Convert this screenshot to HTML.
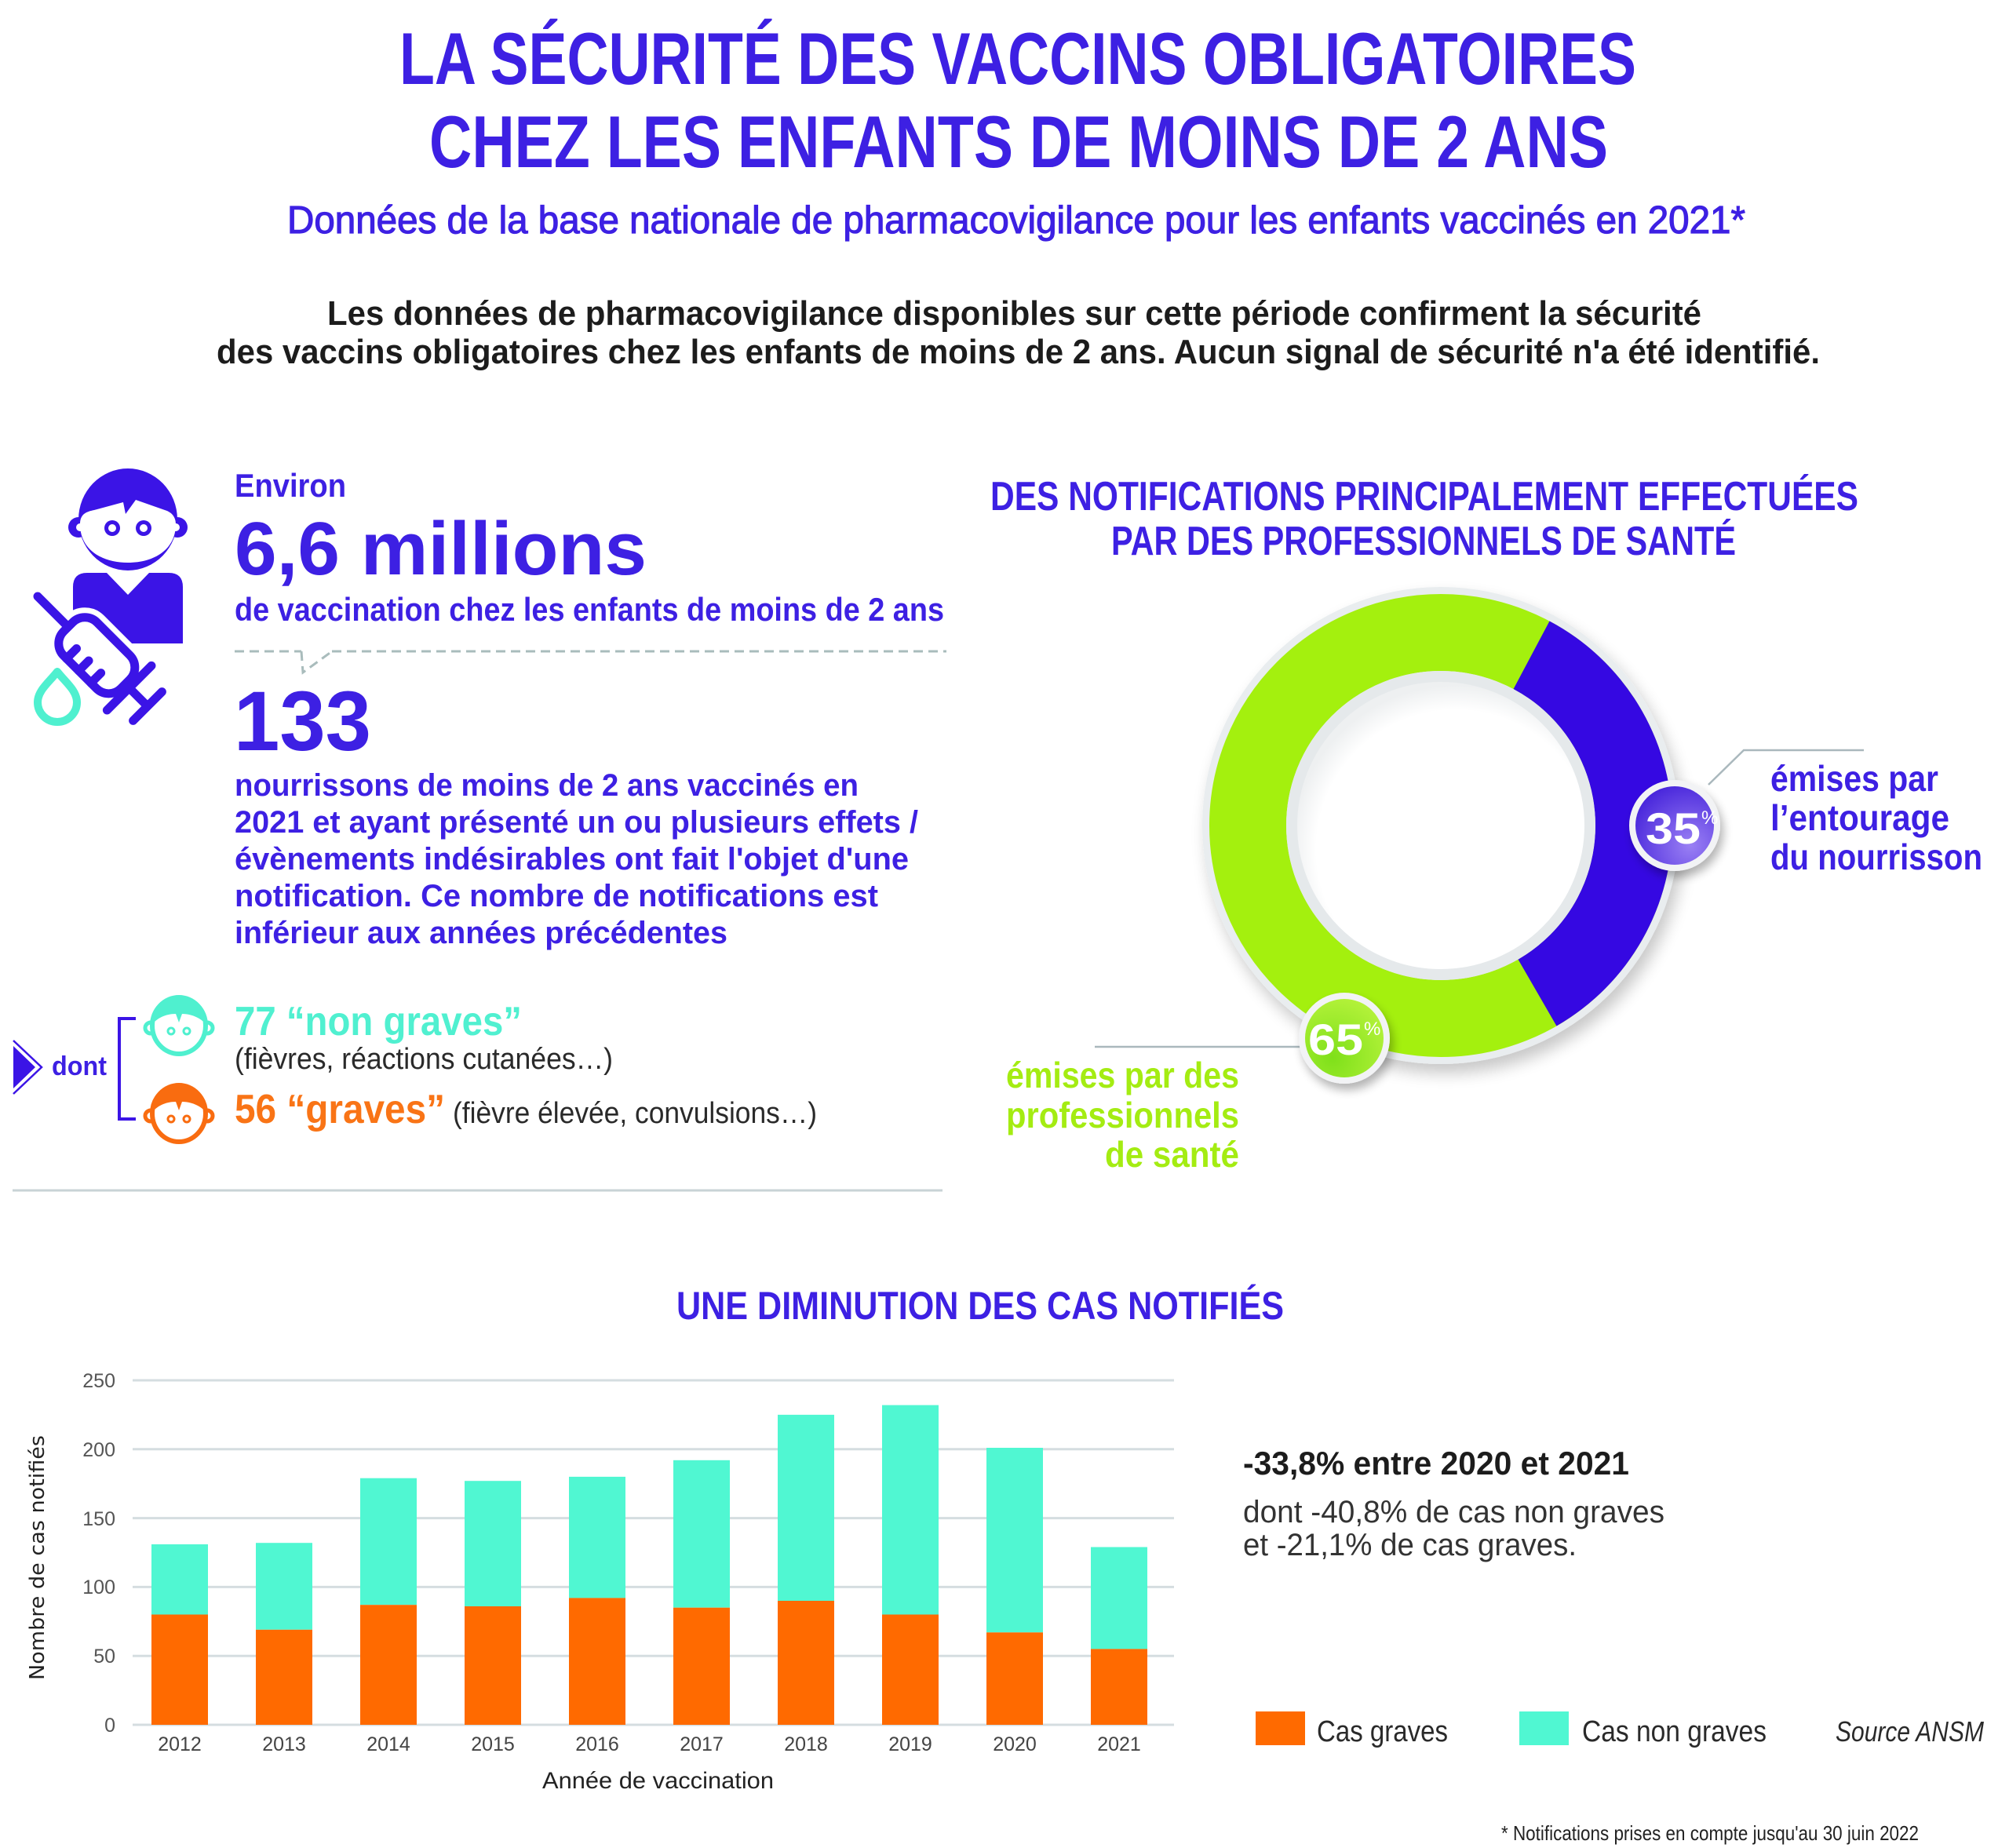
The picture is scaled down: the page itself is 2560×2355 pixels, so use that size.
<!DOCTYPE html>
<html><head><meta charset="utf-8"><style>
html,body{margin:0;padding:0;background:#fff;}
svg{display:block;}
text{font-family:"Liberation Sans",Arial,sans-serif;}
</style></head><body>
<svg width="2560" height="2355" viewBox="0 0 2560 2355" xmlns="http://www.w3.org/2000/svg">
<defs>
<filter id="sh" x="-20%" y="-20%" width="140%" height="140%"><feGaussianBlur in="SourceAlpha" stdDeviation="10"/><feOffset dx="6" dy="12"/><feComponentTransfer><feFuncA type="linear" slope="0.22"/></feComponentTransfer><feMerge><feMergeNode/><feMergeNode in="SourceGraphic"/></feMerge></filter>
<filter id="sh2" x="-40%" y="-40%" width="180%" height="180%"><feGaussianBlur in="SourceAlpha" stdDeviation="6"/><feOffset dx="4" dy="8"/><feComponentTransfer><feFuncA type="linear" slope="0.3"/></feComponentTransfer><feMerge><feMergeNode/><feMergeNode in="SourceGraphic"/></feMerge></filter>
<radialGradient id="gp" cx="70%" cy="75%" r="80%"><stop offset="0" stop-color="#9a80f4"/><stop offset="1" stop-color="#4a28dc"/></radialGradient>
<radialGradient id="gg" cx="35%" cy="75%" r="80%"><stop offset="0" stop-color="#7fe01a"/><stop offset="1" stop-color="#b4f23a"/></radialGradient>
<radialGradient id="hole" cx="55%" cy="58%" r="55%"><stop offset="0.85" stop-color="#ffffff"/><stop offset="1" stop-color="#eef0f1"/></radialGradient>
</defs>

<!-- HEADER -->
<text x="509" y="107" font-size="94" font-weight="bold" fill="#3d20e3" textLength="1576" lengthAdjust="spacingAndGlyphs">LA SÉCURITÉ DES VACCINS OBLIGATOIRES</text>
<text x="547" y="213" font-size="94" font-weight="bold" fill="#3d20e3" textLength="1502" lengthAdjust="spacingAndGlyphs">CHEZ LES ENFANTS DE MOINS DE 2 ANS</text>
<text x="366" y="297" font-size="49" fill="#3d20e3" stroke="#3d20e3" stroke-width="1.2" textLength="1858" lengthAdjust="spacingAndGlyphs">Données de la base nationale de pharmacovigilance pour les enfants vaccinés en 2021*</text>
<text x="417" y="414" font-size="44" font-weight="bold" fill="#1c1c1c" textLength="1751" lengthAdjust="spacingAndGlyphs">Les données de pharmacovigilance disponibles sur cette période confirment la sécurité</text>
<text x="276" y="463" font-size="44" font-weight="bold" fill="#1c1c1c" textLength="2043" lengthAdjust="spacingAndGlyphs">des vaccins obligatoires chez les enfants de moins de 2 ans. Aucun signal de sécurité n'a été identifié.</text>

<!-- BOY ICON -->
<g fill="#3b14e6">
<ellipse cx="163" cy="662" rx="63" ry="65"/>
<circle cx="100" cy="672" r="13"/>
<circle cx="226" cy="672" r="13"/>
</g>
<g fill="#fff">
<path d="M102,668 C102,655 110,652 120,650 L157,640 L160,655 L173,637 L210,650 C220,653 224,660 224,668 C224,700 197,717 163,717 C129,717 102,700 102,668 Z"/>
<circle cx="102" cy="672" r="5"/>
<circle cx="224" cy="672" r="5"/>
</g>
<g fill="#3b14e6"><circle cx="143" cy="673" r="10"/><circle cx="183" cy="673" r="10"/></g>
<g fill="#fff"><circle cx="143" cy="673" r="5"/><circle cx="183" cy="673" r="5"/></g>
<path d="M93,748 Q93,730 111,730 L136,730 L163,758 L190,730 L215,730 Q233,730 233,748 L233,820 L93,820 Z" fill="#3b14e6"/>
<g transform="translate(48,760) rotate(45)" stroke-linecap="round">
 <g stroke="#fff" stroke-width="25" fill="#fff">
  <line x1="0" y1="0" x2="50" y2="0"/>
  <rect x="55" y="-30" width="103" height="60" rx="22"/>
  <line x1="165" y1="-40" x2="165" y2="40"/>
  <line x1="165" y1="0" x2="195" y2="0"/>
  <line x1="198" y1="-26" x2="198" y2="26"/>
 </g>
 <g stroke="#3b14e6" stroke-width="11" fill="#fff">
  <line x1="0" y1="0" x2="50" y2="0"/>
  <rect x="55" y="-30" width="103" height="60" rx="22"/>
  <line x1="82" y1="30" x2="82" y2="12"/>
  <line x1="104" y1="30" x2="104" y2="12"/>
  <line x1="126" y1="30" x2="126" y2="12"/>
  <line x1="165" y1="-40" x2="165" y2="40"/>
  <line x1="165" y1="0" x2="195" y2="0"/>
  <line x1="198" y1="-26" x2="198" y2="26"/>
 </g>
</g>
<path d="M73,856 C62,870 48,880 48,895 A25,25 0 0 0 98,895 C98,880 84,870 73,856 Z" fill="#fff" stroke="#4ff0cf" stroke-width="10" stroke-linejoin="round"/>

<!-- LEFT TEXT -->
<text x="299" y="633" font-size="42" font-weight="bold" fill="#3d20e3" textLength="142" lengthAdjust="spacingAndGlyphs">Environ</text>
<text x="299" y="732" font-size="96" font-weight="bold" fill="#3d20e3" textLength="525" lengthAdjust="spacingAndGlyphs">6,6 millions</text>
<text x="299" y="791" font-size="42" font-weight="bold" fill="#3d20e3" textLength="904" lengthAdjust="spacingAndGlyphs">de vaccination chez les enfants de moins de 2 ans</text>
<g stroke="#a9bcbc" stroke-width="3" fill="none" stroke-dasharray="12 7">
<line x1="299" y1="830" x2="384" y2="830"/>
<path d="M384,830 L386,857 L423,830"/>
<line x1="423" y1="830" x2="1206" y2="830"/>
</g>
<text x="298" y="956" font-size="108" font-weight="bold" fill="#3d20e3" textLength="175" lengthAdjust="spacingAndGlyphs">133</text>
<g font-size="40" font-weight="bold" fill="#3d20e3">
<text x="299" y="1014" textLength="795" lengthAdjust="spacingAndGlyphs">nourrissons de moins de 2 ans vaccinés en</text>
<text x="299" y="1061" textLength="871" lengthAdjust="spacingAndGlyphs">2021 et ayant présenté un ou plusieurs effets /</text>
<text x="299" y="1108" textLength="859" lengthAdjust="spacingAndGlyphs">évènements indésirables ont fait l'objet d'une</text>
<text x="299" y="1155" textLength="820" lengthAdjust="spacingAndGlyphs">notification. Ce nombre de notifications est</text>
<text x="299" y="1202" textLength="628" lengthAdjust="spacingAndGlyphs">inférieur aux années précédentes</text>
</g>

<!-- dont section -->
<polygon points="17,1333 45,1360 17,1387" fill="#3b14e6"/>
<polyline points="17,1326 53,1360 17,1394" fill="none" stroke="#3b14e6" stroke-width="2.5"/>
<text x="66" y="1370" font-size="34" font-weight="bold" fill="#3d20e3" textLength="70" lengthAdjust="spacingAndGlyphs">dont</text>
<path d="M173,1298 H152 V1426 H173" fill="none" stroke="#3b14e6" stroke-width="4"/>

<g transform="translate(228,1306)">
 <circle cx="-36" cy="4" r="7" fill="#fff" stroke="#4ff0cf" stroke-width="5"/>
 <circle cx="36" cy="4" r="7" fill="#fff" stroke="#4ff0cf" stroke-width="5"/>
 <ellipse cx="0" cy="1" rx="34" ry="36" fill="#fff" stroke="#4ff0cf" stroke-width="6"/>
 <path d="M-35,0 C-35,-26 -18,-36 0,-36 C18,-36 35,-26 35,0 C27,-10 14,-14 4,-14 L0,-3 L-4,-14 C-18,-14 -28,-8 -35,0 Z" fill="#4ff0cf"/>
 <circle cx="-10" cy="8" r="4" fill="#fff" stroke="#4ff0cf" stroke-width="3"/>
 <circle cx="10" cy="8" r="4" fill="#fff" stroke="#4ff0cf" stroke-width="3"/>
</g>
<g transform="translate(228,1418)">
 <circle cx="-36" cy="4" r="7" fill="#fff" stroke="#f96c10" stroke-width="5"/>
 <circle cx="36" cy="4" r="7" fill="#fff" stroke="#f96c10" stroke-width="5"/>
 <ellipse cx="0" cy="1" rx="34" ry="36" fill="#fff" stroke="#f96c10" stroke-width="6"/>
 <path d="M-35,0 C-35,-26 -18,-36 0,-36 C18,-36 35,-26 35,0 C27,-10 14,-14 4,-14 L0,-3 L-4,-14 C-18,-14 -28,-8 -35,0 Z" fill="#f96c10"/>
 <circle cx="-10" cy="8" r="4" fill="#fff" stroke="#f96c10" stroke-width="3"/>
 <circle cx="10" cy="8" r="4" fill="#fff" stroke="#f96c10" stroke-width="3"/>
</g>
<text x="299" y="1319" font-size="52" font-weight="bold" fill="#50f0d0" textLength="366" lengthAdjust="spacingAndGlyphs">77 “non graves”</text>
<text x="299" y="1362" font-size="38" fill="#2a2a2a" textLength="482" lengthAdjust="spacingAndGlyphs">(fièvres, réactions cutanées…)</text>
<text x="299" y="1431" font-size="52" font-weight="bold" fill="#f97416" textLength="268" lengthAdjust="spacingAndGlyphs">56 “graves”</text>
<text x="577" y="1431" font-size="38" fill="#2a2a2a" textLength="464" lengthAdjust="spacingAndGlyphs">(fièvre élevée, convulsions…)</text>

<line x1="16" y1="1517" x2="1201" y2="1517" stroke="#c9d3d6" stroke-width="3"/>

<!-- DONUT SECTION -->
<text x="1262" y="650" font-size="52" font-weight="bold" fill="#3d20e3" textLength="1106" lengthAdjust="spacingAndGlyphs">DES NOTIFICATIONS PRINCIPALEMENT EFFECTUÉES</text>
<text x="1416" y="707" font-size="52" font-weight="bold" fill="#3d20e3" textLength="796" lengthAdjust="spacingAndGlyphs">PAR DES PROFESSIONNELS DE SANTÉ</text>

<circle cx="1836" cy="1052" r="304" fill="#e9edef" filter="url(#sh)"/>
<circle cx="1836" cy="1052" r="246" fill="none" stroke="#a4f00e" stroke-width="98"/>
<path d="M1974.5,791.5 A295,295 0 0 1 1983.5,1307.5 L1934.5,1222.6 A197,197 0 0 0 1928.5,878.1 Z" fill="#3508e2"/>
<circle cx="1836" cy="1052" r="190" fill="url(#hole)" stroke="#e5e9eb" stroke-width="14"/>

<line x1="1395" y1="1334" x2="1660" y2="1334" stroke="#aab8bd" stroke-width="2.5"/>
<polyline points="2177,1000 2222,956 2375,956" fill="none" stroke="#aab8bd" stroke-width="2.5"/>

<g filter="url(#sh2)"><circle cx="2134" cy="1052" r="58" fill="#f2f3f5"/></g>
<circle cx="2134" cy="1052" r="50" fill="url(#gp)"/>
<text x="2097" y="1075" font-size="56" font-weight="bold" fill="#fff" textLength="70" lengthAdjust="spacingAndGlyphs">35</text>
<text x="2168" y="1050" font-size="24" fill="#fff">%</text>

<g filter="url(#sh2)"><circle cx="1713" cy="1323" r="58" fill="#f2f3f5"/></g>
<circle cx="1713" cy="1323" r="50" fill="url(#gg)"/>
<text x="1667" y="1344" font-size="56" font-weight="bold" fill="#fff" textLength="70" lengthAdjust="spacingAndGlyphs">65</text>
<text x="1738" y="1319" font-size="24" fill="#fff">%</text>

<g font-size="46" font-weight="bold" fill="#3d20e3">
<text x="2256" y="1008" textLength="214" lengthAdjust="spacingAndGlyphs">émises par</text>
<text x="2256" y="1058" textLength="228" lengthAdjust="spacingAndGlyphs">l’entourage</text>
<text x="2256" y="1108" textLength="270" lengthAdjust="spacingAndGlyphs">du nourrisson</text>
</g>
<g font-size="46" font-weight="bold" fill="#a4ec12">
<text x="1282" y="1386" textLength="297" lengthAdjust="spacingAndGlyphs">émises par des</text>
<text x="1282" y="1437" textLength="297" lengthAdjust="spacingAndGlyphs">professionnels</text>
<text x="1408" y="1487" textLength="171" lengthAdjust="spacingAndGlyphs">de santé</text>
</g>

<!-- BAR CHART -->
<text x="862" y="1681" font-size="50" font-weight="bold" fill="#3d20e3" textLength="774" lengthAdjust="spacingAndGlyphs">UNE DIMINUTION DES CAS NOTIFIÉS</text>

<g transform="translate(0,-4)">
<g stroke="#d5dde0" stroke-width="3">
<line x1="169" y1="1763" x2="1496" y2="1763"/>
<line x1="169" y1="1850.8" x2="1496" y2="1850.8"/>
<line x1="169" y1="1938.6" x2="1496" y2="1938.6"/>
<line x1="169" y1="2026.4" x2="1496" y2="2026.4"/>
<line x1="169" y1="2114.2" x2="1496" y2="2114.2"/>
<line x1="169" y1="2202" x2="1496" y2="2202"/>
</g>
<g font-size="25" fill="#555" text-anchor="end">
<text x="147" y="1772">250</text>
<text x="147" y="1860">200</text>
<text x="147" y="1948">150</text>
<text x="147" y="2035">100</text>
<text x="147" y="2123">50</text>
<text x="147" y="2211">0</text>
</g>

<g fill="#50f7d2">
<rect x="193" y="1972" width="72" height="89.5"/>
<rect x="326" y="1970.2" width="72" height="110.6"/>
<rect x="459" y="1887.7" width="72" height="161.5"/>
<rect x="592" y="1891.2" width="72" height="159.8"/>
<rect x="725" y="1885.9" width="72" height="154.5"/>
<rect x="858" y="1864.8" width="72" height="187.9"/>
<rect x="991" y="1806.9" width="72" height="237.1"/>
<rect x="1124" y="1794.6" width="72" height="266.9"/>
<rect x="1257" y="1849" width="72" height="235.3"/>
<rect x="1390" y="1975.5" width="72" height="129.9"/>
</g>
<g fill="#ff6a00">
<rect x="193" y="2061.5" width="72" height="140.5"/>
<rect x="326" y="2080.8" width="72" height="121.2"/>
<rect x="459" y="2049.2" width="72" height="152.8"/>
<rect x="592" y="2051" width="72" height="151"/>
<rect x="725" y="2040.4" width="72" height="161.6"/>
<rect x="858" y="2052.7" width="72" height="149.3"/>
<rect x="991" y="2044" width="72" height="158"/>
<rect x="1124" y="2061.5" width="72" height="140.5"/>
<rect x="1257" y="2084.3" width="72" height="117.7"/>
<rect x="1390" y="2105.4" width="72" height="96.6"/>
</g>
<g font-size="25" fill="#444" text-anchor="middle">
<text x="229" y="2235">2012</text>
<text x="362" y="2235">2013</text>
<text x="495" y="2235">2014</text>
<text x="628" y="2235">2015</text>
<text x="761" y="2235">2016</text>
<text x="894" y="2235">2017</text>
<text x="1027" y="2235">2018</text>
<text x="1160" y="2235">2019</text>
<text x="1293" y="2235">2020</text>
<text x="1426" y="2235">2021</text>
</g>
<text x="691" y="2283" font-size="30" fill="#222" textLength="295" lengthAdjust="spacingAndGlyphs">Année de vaccination</text>
<text transform="translate(56,2145) rotate(-90)" x="0" y="0" font-size="26" fill="#222" style="font-family:'DejaVu Sans',sans-serif" textLength="312" lengthAdjust="spacingAndGlyphs">Nombre de cas notifiés</text>
</g>

<!-- RIGHT TEXT -->
<text x="1584" y="1879" font-size="42" font-weight="bold" fill="#1c1c1c" textLength="492" lengthAdjust="spacingAndGlyphs">-33,8% entre 2020 et 2021</text>
<text x="1584" y="1940" font-size="40" fill="#333" textLength="537" lengthAdjust="spacingAndGlyphs">dont -40,8% de cas non graves</text>
<text x="1584" y="1982" font-size="40" fill="#333" textLength="425" lengthAdjust="spacingAndGlyphs">et -21,1% de cas graves.</text>

<rect x="1600" y="2181" width="63" height="43" fill="#ff6a00"/>
<text x="1678" y="2219" font-size="38" fill="#2a2a2a" textLength="167" lengthAdjust="spacingAndGlyphs">Cas graves</text>
<rect x="1936" y="2181" width="63" height="43" fill="#50f7d2"/>
<text x="2016" y="2219" font-size="38" fill="#2a2a2a" textLength="235" lengthAdjust="spacingAndGlyphs">Cas non graves</text>
<text x="2339" y="2219" font-size="36" font-style="italic" fill="#2a2a2a" textLength="189" lengthAdjust="spacingAndGlyphs">Source ANSM</text>

<text x="1913" y="2345" font-size="26" fill="#222" textLength="532" lengthAdjust="spacingAndGlyphs">* Notifications prises en compte jusqu'au 30 juin 2022</text>
</svg>
</body></html>
